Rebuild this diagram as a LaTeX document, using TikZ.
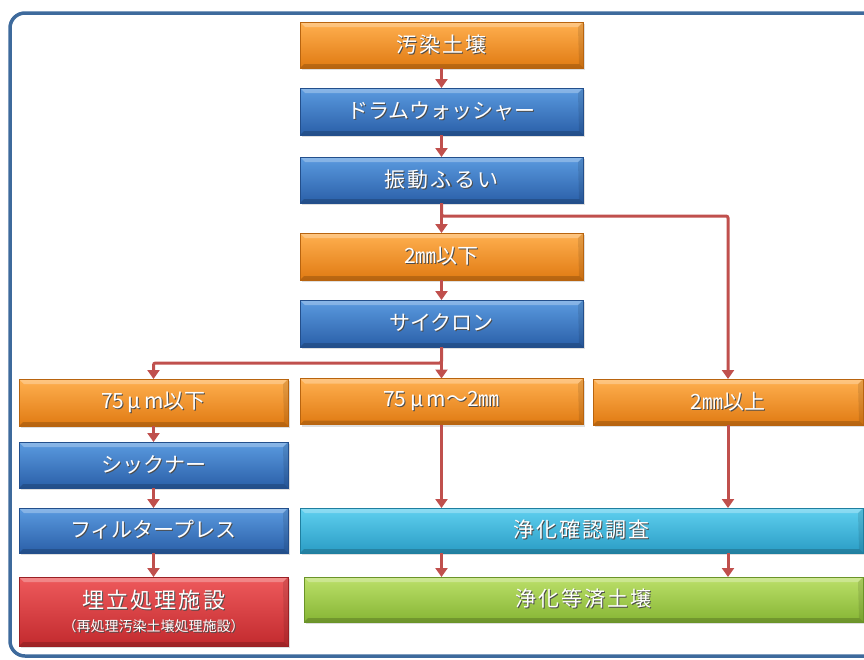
\documentclass[tikz,border=0pt]{standalone}
\usepackage{fontspec}
\setmainfont{Noto Sans CJK JP}
\newfontfamily\jpwide[LetterSpace=10]{Noto Sans CJK JP}
\usetikzlibrary{arrows.meta,shadows}
\definecolor{framec}{HTML}{3E6A9C}
\definecolor{arr}{HTML}{C0504D}
\definecolor{orT}{HTML}{FFB050}\definecolor{orM}{HTML}{F7941D}\definecolor{orB}{HTML}{E07A12}\definecolor{orD}{HTML}{B8640F}
\definecolor{blT}{HTML}{5B9BE0}\definecolor{blM}{HTML}{3A76C4}\definecolor{blB}{HTML}{2A5FA8}\definecolor{blD}{HTML}{234F8C}
\definecolor{cyT}{HTML}{5FD0F0}\definecolor{cyM}{HTML}{34B4DC}\definecolor{cyB}{HTML}{2A9CC4}\definecolor{cyD}{HTML}{1F7FA0}
\definecolor{grT}{HTML}{BCE06A}\definecolor{grM}{HTML}{9CCB45}\definecolor{grB}{HTML}{86B534}\definecolor{grD}{HTML}{6A9428}
\definecolor{rdT}{HTML}{EE5A5C}\definecolor{rdM}{HTML}{DA3A3C}\definecolor{rdB}{HTML}{C22A2E}\definecolor{rdD}{HTML}{9A2024}
\newcommand\shtx[1]{\leavevmode\rlap{\kern1pt\raisebox{-1pt}{\color{black!70}#1}}#1}
\tikzset{
  box/.style={inner sep=0pt, outer sep=0pt, text=white, font=\fontsize{21}{25}\selectfont,
    drop shadow={shadow xshift=1.5pt, shadow yshift=-2pt, opacity=0.25},
    path picture={
      \fill[white, opacity=0.28] (path picture bounding box.north west) -- (path picture bounding box.north east)
        -- ([xshift=-5pt,yshift=-5pt]path picture bounding box.north east) -- ([xshift=5pt,yshift=-5pt]path picture bounding box.north west) -- cycle;
      \fill[black, opacity=0.18] (path picture bounding box.south west) -- (path picture bounding box.south east)
        -- ([xshift=-4pt,yshift=4pt]path picture bounding box.south east) -- ([xshift=4pt,yshift=4pt]path picture bounding box.south west) -- cycle;
      \fill[black, opacity=0.10] (path picture bounding box.south east) -- (path picture bounding box.north east)
        -- ([xshift=-5pt,yshift=-5pt]path picture bounding box.north east) -- ([xshift=-4pt,yshift=4pt]path picture bounding box.south east) -- cycle;
    }},
  orbox/.style={box, top color=orT, middle color=orM, bottom color=orB, draw=orD, line width=0.6pt},
  blbox/.style={box, top color=blT, middle color=blM, bottom color=blB, draw=blD, line width=0.6pt},
  cybox/.style={box, top color=cyT, middle color=cyM, bottom color=cyB, draw=cyD, line width=0.6pt},
  grbox/.style={box, top color=grT, middle color=grM, bottom color=grB, draw=grD, line width=0.6pt},
  rdbox/.style={box, top color=rdT, middle color=rdM, bottom color=rdB, draw=rdD, line width=0.6pt},
  flow/.style={draw=arr, line width=3pt, -{Triangle[width=12pt,length=9pt]}},
}
\begin{document}
\begin{tikzpicture}[x=1pt,y=-1pt]
\useasboundingbox (0,0) rectangle (864,659);
\begin{scope}
\clip (0,0) rectangle (864,659);
\draw[framec, line width=3.5pt, rounded corners=15pt] (10,13) rectangle (890,656);
\end{scope}
\node[orbox, minimum width=283pt, minimum height=46pt] (A) at (441.5,45) {\jpwide\shtx{汚染土壌}};
\node[blbox, minimum width=283pt, minimum height=47pt] (B) at (441.5,111.5) {\shtx{ドラムウォッシャー}};
\node[blbox, minimum width=283pt, minimum height=46pt] (C) at (441.5,180) {\jpwide\shtx{振動ふるい}};
\node[orbox, minimum width=283pt, minimum height=47pt] (D) at (441.5,256.5) {\shtx{2㎜以下}};
\node[blbox, minimum width=283pt, minimum height=47pt] (E) at (441.5,323.5) {\shtx{サイクロン}};
\node[orbox, minimum width=269pt, minimum height=47pt] (L1) at (153.5,402.5) {\shtx{75\,μ\,m以下}};
\node[orbox, minimum width=283pt, minimum height=46pt] (M1) at (441.5,401.5) {\shtx{75\,μ\,m～2㎜}};
\node[orbox, minimum width=270pt, minimum height=46pt] (R1) at (728,402) {\shtx{2㎜以上}};
\node[blbox, minimum width=269pt, minimum height=46pt] (L2) at (153.5,465) {\shtx{シックナー}};
\node[blbox, minimum width=269pt, minimum height=45pt] (L3) at (153.5,530.5) {\shtx{フィルタープレス}};
\node[rdbox, minimum width=269pt, minimum height=69pt, align=center] (L4) at (153.5,611.5)
  {{\jpwide\fontsize{22}{26}\selectfont\shtx{埋立処理施設}}\\[-2pt]{\fontsize{14}{16}\selectfont\shtx{（再処理汚染土壌処理施設）}}};
\node[cybox, minimum width=563pt, minimum height=45pt] (CY) at (581.5,530.5) {\jpwide\shtx{浄化確認調査}};
\node[grbox, minimum width=559pt, minimum height=45pt] (GR) at (583.5,599.5) {\jpwide\shtx{浄化等済土壌}};
\draw[flow] (A) -- (B);
\draw[flow] (B) -- (C);
\draw[flow] (C) -- (D);
\draw[flow, rounded corners=2pt] (C.south) -- ++(0,13) -| (R1.north);
\draw[flow] (D) -- (E);
\draw[flow] (E) -- (M1);
\draw[flow, rounded corners=2pt] (E.south) -- ++(0,16) -| (L1.north);
\draw[flow] (L1) -- (L2);
\draw[flow] (L2) -- (L3);
\draw[flow] (L3) -- (L4);
\draw[flow] (M1.south) -- (M1.south |- CY.north);
\draw[flow] (R1.south) -- (R1.south |- CY.north);
\draw[flow] (M1.south |- CY.south) -- (M1.south |- GR.north);
\draw[flow] (R1.south |- CY.south) -- (R1.south |- GR.north);
\end{tikzpicture}
\end{document}
